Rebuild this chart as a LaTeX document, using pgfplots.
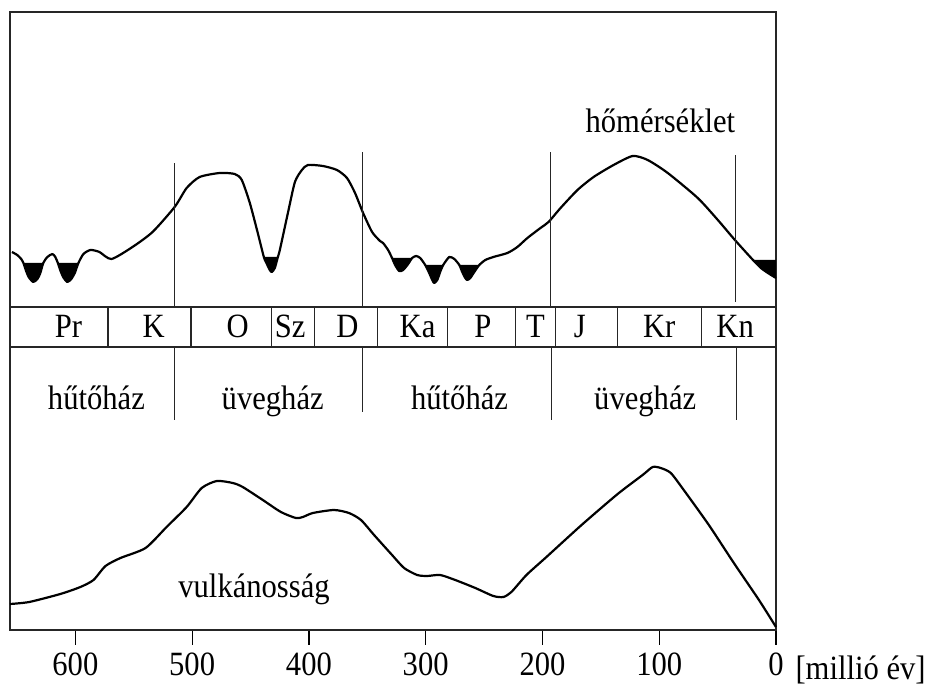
\documentclass[border=0pt]{standalone}
\usepackage{pgfplots}
\pgfplotsset{compat=1.18}
\usepackage{fontspec}
\setmainfont[FakeStretch=0.9]{Liberation Serif}

% temperature curve (million years, height)
\pgfplotstableread{
x y
654.3 378
649.8 375
646.4 371
644.5 367
642.5 360
640.0 353
636.1 348
632.5 351
630.0 357
627.5 367
624.0 373
619.7 376
617.2 373
615.0 367
613.0 360
610.5 353
606.9 348
603.5 351
600.5 357
597.4 367
593.1 376
587.1 380
579.4 378
569.1 371
551.1 383
533.9 398
515.0 423
504.7 442
493.6 453
476.4 457
463.5 456
457.5 450
450.6 427
443.8 397
438.6 373
436.0 366
433.5 360
431.8 358
429.2 362
426.6 373
424.9 380
418.0 417
412.0 448
406.0 460
400.9 465
388.0 464
376.0 460
367.4 452
360.5 437
353.6 417
345.9 398
339.1 389
336.5 387
332.2 380
328.8 372
326.2 365
322.7 359
319.3 360
315.0 366
311.6 372
308.2 374
304.7 372
300.4 365
297.0 357
294.4 350
292.7 347
290.1 350
287.6 358
285.0 365
279.8 373
275.5 371
271.2 365
268.7 358
266.1 352
264.4 350
261.8 352
258.4 358
254.1 365
248.9 370
242.1 373
230.0 377
221.5 383
212.9 392
201.7 402
194.8 408
184.5 422
170.0 440
156.2 453
139.1 465
122.7 474
109.9 470
92.7 457
67.0 432
49.8 410
35.2 390
19.7 370
12.9 362
6.9 357
0.0 352
}\temp

% volcanism curve
\pgfplotstableread{
x y
656.0 26
639.5 28
612.9 36
595.7 43
584.5 50
574.2 64
561.4 72
539.9 82
521.9 103
504.7 123
491.8 142
478.9 149
465.2 147
456.7 143
439.5 130
424.0 118
411.2 112
405.2 113
396.6 117
378.5 120
365.7 117
355.4 110
344.2 95
328.8 75
318.5 62
307.3 55
298.7 54
287.6 55
274.7 50
257.5 42
242.1 34
233.5 33
226.6 38
213.7 55
196.6 73
166.5 105
135.6 136
114.2 155
105.6 163
98.7 162
90.1 157
79.0 140
57.5 105
36.1 67
14.6 30
0.0 3
}\vulk

\begin{document}
\begin{tikzpicture}[font=\fontsize{34}{40}\selectfont]
\begin{axis}[
  scale only axis, width=766pt, height=618pt,
  xmin=0, xmax=656, ymin=0, ymax=618, x dir=reverse,
  xtick={0,100,200,300,400,500,600}, ytick=\empty,
  xtick pos=left, tick align=outside, major tick length=15pt,
  tick style={line width=1.2pt, black},
  axis line style={line width=1.3pt, black!85},
  xticklabel style={font=\fontsize{34}{40}\selectfont, yshift=-4pt},
  /pgf/number format/assume math mode=true,
  clip=false,
]
% ice ages
\addplot[fill=black, draw=none] coordinates {(644.5,367) (642.5,360) (640.0,353) (636.1,348) (632.5,351) (630.0,357) (627.5,367)} -- cycle;
\addplot[fill=black, draw=none] coordinates {(615.0,367) (613.0,360) (610.5,353) (606.9,348) (603.5,351) (600.5,357) (597.4,367)} -- cycle;
\addplot[fill=black, draw=none] coordinates {(438.6,373) (436.0,366) (433.5,360) (431.8,358) (429.2,362) (426.6,373)} -- cycle;
\addplot[fill=black, draw=none] coordinates {(328.8,372) (326.2,365) (322.7,359) (319.3,360) (315.0,366) (311.6,372)} -- cycle;
\addplot[fill=black, draw=none] coordinates {(300.4,365) (297.0,357) (294.4,350) (292.7,347) (290.1,350) (287.6,358) (285.0,365)} -- cycle;
\addplot[fill=black, draw=none] coordinates {(271.2,365) (268.7,358) (266.1,352) (264.4,350) (261.8,352) (258.4,358) (254.1,365)} -- cycle;
\addplot[fill=black, draw=none] coordinates {(19.7,370) (12.9,362) (6.9,357) (0,352) (0,370)} -- cycle;

% curves
\addplot[black, line width=2.2pt, smooth, tension=0.4, line join=round] table {\temp};
\addplot[black, line width=2.2pt, smooth, tension=0.4, line join=round] table {\vulk};

% period strip
\addplot[black!85, line width=1.3pt] coordinates {(0,323) (656,323)};
\addplot[black!85, line width=1.3pt] coordinates {(0,283) (656,283)};
\addplot[black!85, line width=1.2pt] coordinates {(572,283) (572,323)};
\addplot[black!85, line width=1.2pt] coordinates {(501,283) (501,323)};
\addplot[black!85, line width=1.2pt] coordinates {(432,283) (432,323)};
\addplot[black!85, line width=1.2pt] coordinates {(395,283) (395,323)};
\addplot[black!85, line width=1.2pt] coordinates {(341,283) (341,323)};
\addplot[black!85, line width=1.2pt] coordinates {(281,283) (281,323)};
\addplot[black!85, line width=1.2pt] coordinates {(223,283) (223,323)};
\addplot[black!85, line width=1.2pt] coordinates {(189,283) (189,323)};
\addplot[black!85, line width=1.2pt] coordinates {(136,283) (136,323)};
\addplot[black!85, line width=1.2pt] coordinates {(64,283) (64,323)};

% icehouse / greenhouse boundaries
\addplot[black!85, line width=1.2pt] coordinates {(515,323) (515,467)};
\addplot[black!85, line width=1.2pt] coordinates {(354,323) (354,478)};
\addplot[black!85, line width=1.2pt] coordinates {(193,323) (193,478)};
\addplot[black!85, line width=1.2pt] coordinates {(35,328) (35,475)};
\addplot[black!85, line width=1.2pt] coordinates {(515,283) (515,210)};
\addplot[black!85, line width=1.2pt] coordinates {(354,283) (354,218)};
\addplot[black!85, line width=1.2pt] coordinates {(192,283) (192,210)};
\addplot[black!85, line width=1.2pt] coordinates {(34,283) (34,210)};

% labels
\node[anchor=base] at (axis cs:606,292) {Pr};
\node[anchor=base] at (axis cs:533,292) {K};
\node[anchor=base] at (axis cs:461,292) {O};
\node[anchor=base] at (axis cs:416,292) {Sz};
\node[anchor=base] at (axis cs:367,292) {D};
\node[anchor=base] at (axis cs:307,292) {Ka};
\node[anchor=base] at (axis cs:251,292) {P};
\node[anchor=base] at (axis cs:206,292) {T};
\node[anchor=base] at (axis cs:168,292) {J};
\node[anchor=base] at (axis cs:100,292) {Kr};
\node[anchor=base] at (axis cs:35,292) {Kn};

\node[anchor=base] at (axis cs:582,220) {hűtőház};
\node[anchor=base] at (axis cs:431,220) {üvegház};
\node[anchor=base] at (axis cs:271,220) {hűtőház};
\node[anchor=base] at (axis cs:112,220) {üvegház};

\node[anchor=base] at (axis cs:99,497) {hőmérséklet};
\node[anchor=base] at (axis cs:447,32) {vulkánosság};

\node[anchor=base west] at ([xshift=16pt, yshift=-50pt]axis cs:0,0) {[millió év]};

\coordinate (bbsw) at ([xshift=-10pt, yshift=-56pt]axis cs:656,0);
\coordinate (bbne) at ([xshift=161pt, yshift=12pt]axis cs:0,618);
\end{axis}
\path (bbsw) rectangle (bbne);
\end{tikzpicture}
\end{document}
